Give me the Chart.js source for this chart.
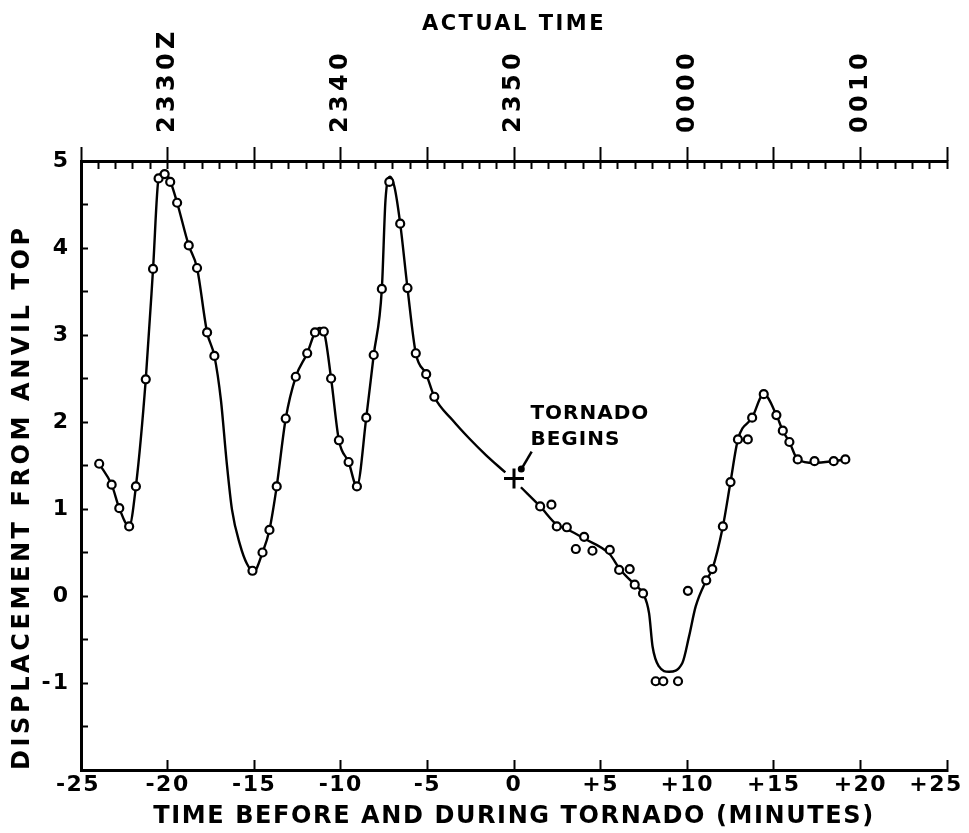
<!DOCTYPE html>
<html>
<head>
<meta charset="utf-8">
<script src="https://cdn.jsdelivr.net/npm/chart.js@4.4.0/dist/chart.umd.min.js"></script>
<style>
  html, body { margin: 0; padding: 0; background: #fff; }
  canvas { display: block; }
</style>
</head>
<body>
<canvas id="chart" width="969" height="833" style="width:969px;height:833px"></canvas>
<script>
// ---- Data ----
const obsMinutes = [-23.95, -23.23, -22.79, -22.22, -21.83, -21.26, -20.84, -20.52, -20.17, -19.85,
  -19.45, -18.78, -18.30, -17.72, -17.30, -15.10, -14.52, -14.12, -13.70, -13.18,
  -12.60, -11.94, -11.49, -10.98, -10.56, -10.11, -9.55, -9.07, -8.53, -8.10,
  -7.63, -7.20, -6.57, -6.15, -5.67, -5.07, -4.60, 1.51, 2.16, 2.47,
  3.05, 3.57, 4.05, 4.53, 5.53, 6.07, 6.68, 6.97, 7.45, 8.18,
  8.62, 9.47, 10.04, 11.10, 11.45, 12.06, 12.50, 12.93, 13.50, 13.75,
  14.42, 15.15, 15.52, 15.90, 16.38, 17.35, 18.46, 19.13];
const obsDisplacement = [1.52, 1.28, 1.01, 0.80, 1.26, 2.49, 3.76, 4.80, 4.85, 4.76,
  4.52, 4.03, 3.77, 3.03, 2.76, 0.29, 0.50, 0.76, 1.26, 2.04,
  2.52, 2.79, 3.03, 3.04, 2.50, 1.79, 1.54, 1.26, 2.05, 2.77,
  3.53, 4.76, 4.28, 3.54, 2.79, 2.55, 2.29, 1.03, 1.05, 0.80,
  0.79, 0.54, 0.68, 0.52, 0.53, 0.30, 0.31, 0.13, 0.03, -0.98,
  -0.98, -0.98, 0.06, 0.18, 0.31, 0.80, 1.31, 1.80, 1.80, 2.05,
  2.32, 2.08, 1.90, 1.77, 1.57, 1.55, 1.55, 1.57];

// Hand-drawn smooth curve (nodes; null = gap at the "+" mark)
const curveMinutes = [-23.95, -23.23, -22.79, -22.22, -21.83, -21.26, -20.84, -20.52, -20.2, -19.85,
  -19.45, -18.78, -18.3, -17.72, -17.3, -16.92, -16.6, -16.28, -15.82, -15.42,
  -15.03, -14.52, -14.12, -13.7, -13.18, -12.6, -11.94, -11.49, -11.22, -10.98,
  -10.56, -10.11, -9.55, -9.07, -8.53, -8.1, -7.63, -7.42, -7.15, -6.9,
  -6.57, -6.15, -5.67, -5.07, -4.6, -3.54, -2.58, -1.62, -0.5, 0,
  0.4, 1.51, 2.47, 3.05, 4.05, 5.53, 6.07, 6.97, 7.45, 7.8,
  8.0, 8.37, 8.95, 9.72, 10.1, 10.49, 11.1, 11.45, 12.06, 12.5,
  12.93, 13.75, 14.42, 15.15, 15.52, 15.9, 16.38, 17.35, 18.46, 19.13];
const curveDisplacement = [1.52, 1.28, 1.01, 0.80, 1.26, 2.49, 3.76, 4.80, 4.88, 4.77,
  4.52, 4.03, 3.77, 3.03, 2.76, 2.25, 1.56, 0.99, 0.59, 0.37,
  0.28, 0.50, 0.76, 1.26, 2.04, 2.52, 2.79, 3.03, 3.08, 3.04,
  2.50, 1.79, 1.54, 1.26, 2.05, 2.77, 3.53, 4.55, 4.82, 4.70,
  4.28, 3.54, 2.79, 2.55, 2.29, 2.02, 1.81, 1.62, 1.42, null,
  1.25, 1.03, 0.82, 0.77, 0.66, 0.48, 0.32, 0.13, 0.03, -0.20,
  -0.58, -0.81, -0.87, -0.77, -0.47, -0.12, 0.18, 0.31, 0.80, 1.31,
  1.80, 2.05, 2.32, 2.08, 1.90, 1.77, 1.57, 1.53, 1.55, 1.57];

const tornadoMinute = [0];
const tornadoDisplacement = [1.35];
const tornadoNoteLines = ['TORNADO', 'BEGINS'];

const bottomTickValues = [-25, -20, -15, -10, -5, 0, 5, 10, 15, 20, 25];
const bottomTickLabels = ['-25', '-20', '-15', '-10', '-5', '0', '+5', '+10', '+15', '+20', '+25'];
const topTickMinutes = [-20, -10, 0, 10, 20];
const topTickLabels = ['2330Z', '2340', '2350', '0000', '0010'];
const yLabelValues = [-1, 0, 1, 2, 3, 4, 5];

const xTitle = 'TIME BEFORE AND DURING TORNADO (MINUTES)';
const topTitle = 'ACTUAL TIME';
const yTitle = 'DISPLACEMENT FROM ANVIL TOP';

// ---- Chart ----
const FONT = 'DejaVu Sans';
Chart.defaults.font.family = FONT;
Chart.defaults.color = '#000';

// letter spacing of the hand-lettered axis texts
const axisTextSpacing = {
  x: { labels: '1.5px', title: '1.6px' },
  xTop: { labels: '4.3px', title: '2.5px' },
  y: { labels: '2px', title: '3.6px' }
};
// nudge of the end labels of the bottom axis (keeps "+25" inside the page, as in the figure)
const bottomEdgeLabelShift = { first: -3, last: -11 };

const letterSpacingPlugin = {
  id: 'axisLetterSpacing',
  beforeDraw(chart) {
    Object.keys(axisTextSpacing).forEach(id => {
      const s = chart.scales[id];
      if (!s || s._lsWrapped) return;
      const origLabels = s.drawLabels.bind(s);
      const origTitle = s.drawTitle.bind(s);
      s.drawLabels = function (area) {
        const c = chart.ctx;
        if (id === 'x') {
          const items = s.getLabelItems(area);
          if (items.length && !items._shifted) {
            items[0].options.translation[0] += bottomEdgeLabelShift.first;
            items[items.length - 1].options.translation[0] += bottomEdgeLabelShift.last;
            items._shifted = true;
          }
        }
        c.save();
        c.letterSpacing = axisTextSpacing[id].labels;
        origLabels(area);
        c.restore();
      };
      s.drawTitle = function () {
        const c = chart.ctx;
        c.save();
        c.letterSpacing = axisTextSpacing[id].title;
        origTitle();
        c.restore();
      };
      s._lsWrapped = true;
    });
  }
};

const tornadoNotePlugin = {
  id: 'tornadoNote',
  afterDatasetsDraw(chart) {
    const { ctx, scales: { x, y } } = chart;
    ctx.save();
    ctx.font = 'bold 20px "' + FONT + '"';
    ctx.letterSpacing = '1px';
    ctx.fillStyle = '#000';
    ctx.textAlign = 'left';
    ctx.textBaseline = 'middle';
    const tx = x.getPixelForValue(0.95);
    ctx.fillText(tornadoNoteLines[0], tx, y.getPixelForValue(2.10));
    ctx.fillText(tornadoNoteLines[1], tx, y.getPixelForValue(1.80));
    ctx.strokeStyle = '#000';
    ctx.lineWidth = 2.5;
    ctx.beginPath();
    ctx.moveTo(x.getPixelForValue(1.02), y.getPixelForValue(1.66));
    ctx.lineTo(x.getPixelForValue(0.46), y.getPixelForValue(1.47));
    ctx.stroke();
    ctx.beginPath();
    ctx.arc(x.getPixelForValue(0.42), y.getPixelForValue(1.46), 3.5, 0, Math.PI * 2);
    ctx.fill();
    ctx.restore();
  }
};

const toXY = (xs, ys) => xs.map((v, i) => ({ x: v, y: ys[i] }));
const noSidePadding = s => { s.paddingLeft = 0; s.paddingRight = 0; };

new Chart(document.getElementById('chart'), {
  type: 'scatter',
  data: {
    datasets: [
      {
        label: 'Observed displacement',
        data: toXY(obsMinutes, obsDisplacement),
        showLine: false,
        pointRadius: 4,
        pointBorderWidth: 2.2,
        pointBackgroundColor: '#fff',
        pointBorderColor: '#000',
        order: 0
      },
      {
        label: 'Tornado begins',
        data: toXY(tornadoMinute, tornadoDisplacement),
        showLine: false,
        pointStyle: 'cross',
        pointRadius: 10,
        pointBorderWidth: 3,
        pointBorderColor: '#000',
        order: 1
      },
      {
        label: 'Smoothed curve',
        data: toXY(curveMinutes, curveDisplacement),
        showLine: true,
        borderColor: '#000',
        borderWidth: 2.4,
        pointRadius: 0,
        cubicInterpolationMode: 'monotone',
        spanGaps: false,
        order: 2
      }
    ]
  },
  options: {
    responsive: false,
    animation: false,
    devicePixelRatio: 1,
    layout: { padding: { left: 0, right: 22, top: 0, bottom: 0 } },
    plugins: { legend: { display: false }, tooltip: { enabled: false } },
    scales: {
      x: {
        type: 'linear', position: 'bottom', min: -25, max: 25,
        afterBuildTicks: s => { s.ticks = bottomTickValues.map(v => ({ value: v })); },
        ticks: {
          autoSkip: false, maxRotation: 0, minRotation: 0, padding: 12,
          font: { size: 22, weight: 'bold' }, color: '#000',
          callback: v => { const i = bottomTickValues.indexOf(v); return i >= 0 ? bottomTickLabels[i] : ''; }
        },
        grid: { drawOnChartArea: false, drawTicks: true, tickLength: -10, tickWidth: 2, tickColor: '#000' },
        border: { display: true, color: '#000', width: 3 },
        title: { display: true, text: xTitle, color: '#000', font: { size: 24, weight: 'bold' }, padding: { top: 0, bottom: 2 } },
        afterFit: s => { s.height = 63; noSidePadding(s); }
      },
      xTop: {
        type: 'linear', position: 'top', min: -25, max: 25, weight: 1,
        ticks: {
          stepSize: 1, autoSkip: false, minRotation: 90, maxRotation: 90, padding: 36, labelOffset: 29,
          font: { size: 24, weight: 'bold' }, color: '#000',
          callback: v => { const i = topTickMinutes.indexOf(v); return i >= 0 ? topTickLabels[i] : ''; }
        },
        grid: { drawOnChartArea: false, drawTicks: true, tickLength: -8, tickWidth: 2, tickColor: '#000' },
        border: { display: true, color: '#000', width: 3 },
        title: { display: true, text: topTitle, color: '#000', font: { size: 21, weight: 'bold' }, padding: { top: 12, bottom: 0 } },
        afterFit: s => { s.height = 161; noSidePadding(s); }
      },
      xTopMajor: {
        type: 'linear', position: 'top', min: -25, max: 25, weight: 0,
        ticks: { stepSize: 5, display: false },
        grid: { drawOnChartArea: false, drawTicks: true, tickLength: 14, tickWidth: 2, tickColor: '#000' },
        border: { display: false },
        afterFit: s => { s.height = 0; noSidePadding(s); }
      },
      y: {
        type: 'linear', position: 'left', min: -2, max: 5,
        ticks: {
          stepSize: 0.5, autoSkip: false, padding: 18,
          font: { size: 22, weight: 'bold' }, color: '#000',
          callback: v => (yLabelValues.indexOf(v) >= 0 ? String(v) : '')
        },
        grid: { drawOnChartArea: false, drawTicks: true, tickLength: -7, tickWidth: 2, tickColor: '#000' },
        border: { display: true, color: '#000', width: 3 },
        title: { display: true, text: yTitle, align: 'start', color: '#000', font: { size: 24, weight: 'bold' }, padding: { top: 8, bottom: 0 } },
        afterFit: s => { s.width = 81; s.paddingTop = 0; s.paddingBottom = 0; }
      }
    }
  },
  plugins: [letterSpacingPlugin, tornadoNotePlugin]
});
</script>
</body>
</html>
